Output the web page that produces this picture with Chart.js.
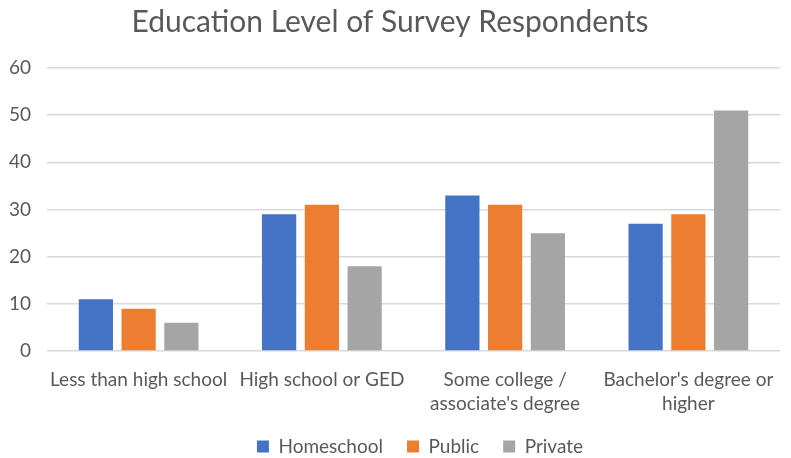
<!DOCTYPE html>
<html>
<head>
<meta charset="utf-8">
<script src="https://cdn.jsdelivr.net/npm/chart.js@4/dist/chart.umd.min.js"></script>
<style>
  html, body { margin: 0; padding: 0; background: #ffffff; }
  #wrap { width: 791px; height: 458px; position: relative; }
</style>
</head>
<body>
<div id="wrap"><canvas id="chart"></canvas></div>
<script>
// Education level categories (multi-line labels as arrays)
const categories = [
  'Less than high school',
  'High school or GED',
  ['Some college /', "associate's degree"],
  ["Bachelor's degree or", 'higher']
];

// Percent of respondents per schooling type
const homeschool = [11, 29, 33, 27];
const publicSchool = [9, 31, 31, 29];
const privateSchool = [6, 18, 25, 51];

const seriesNames = ['Homeschool', 'Public', 'Private'];
const yTicks = [0, 10, 20, 30, 40, 50, 60];

const textColor = '#595959';
const fontFamily = 'Lato, "Open Sans", "Liberation Sans", sans-serif';

// The legend is measured with a small padding (compact block height),
// then drawn with a wider padding so the entries sit further apart;
// its top is adjusted so the row lands just above the bottom edge.
const LEGEND_FIT_PAD = 4;
const LEGEND_DRAW_PAD = 24;
const LEGEND_DROP = 8;
const legendSpacing = {
  id: 'legendSpacing',
  beforeDraw(chart) {
    const lg = chart.legend;
    if (lg && lg.options) {
      lg.options.labels.padding = LEGEND_DRAW_PAD;
      lg.top = lg.bottom - lg.height - (LEGEND_DRAW_PAD - LEGEND_FIT_PAD) + LEGEND_DROP;
    }
  }
};

new Chart(document.getElementById('chart'), {
  type: 'bar',
  data: {
    labels: categories,
    datasets: [
      { label: seriesNames[0], data: homeschool, backgroundColor: '#4472c4' },
      { label: seriesNames[1], data: publicSchool, backgroundColor: '#ed7d31' },
      { label: seriesNames[2], data: privateSchool, backgroundColor: '#a5a5a5' }
    ]
  },
  plugins: [legendSpacing],
  options: {
    responsive: true,
    maintainAspectRatio: false,
    animation: false,
    datasets: { bar: { categoryPercentage: 0.7, barPercentage: 0.8 } },
    layout: { padding: { left: 0, right: 11, top: 4, bottom: 0 } },
    plugins: {
      title: {
        display: true,
        text: 'Education Level of Survey Respondents',
        color: textColor,
        font: { family: fontFamily, size: 30, weight: 'normal' },
        padding: { top: 0, bottom: 28 }
      },
      legend: {
        position: 'bottom',
        labels: {
          color: textColor,
          font: { family: fontFamily, size: 19 },
          boxWidth: 12,
          boxHeight: 12,
          padding: LEGEND_FIT_PAD
        }
      },
      tooltip: { enabled: false }
    },
    scales: {
      x: {
        grid: { display: false },
        border: { display: false },
        ticks: {
          color: textColor,
          font: { family: fontFamily, size: 19, lineHeight: 1.26 },
          maxRotation: 0,
          padding: 9
        }
      },
      y: {
        min: 0,
        max: 60,
        afterFit: (scale) => { scale.width = 47; },
        afterBuildTicks: (scale) => { scale.ticks = yTicks.map(v => ({ value: v })); },
        grid: { color: '#d9d9d9', lineWidth: 1.5, drawTicks: false },
        border: { display: false },
        ticks: {
          color: textColor,
          font: { family: fontFamily, size: 19 },
          padding: 16
        }
      }
    }
  }
});
</script>
</body>
</html>
